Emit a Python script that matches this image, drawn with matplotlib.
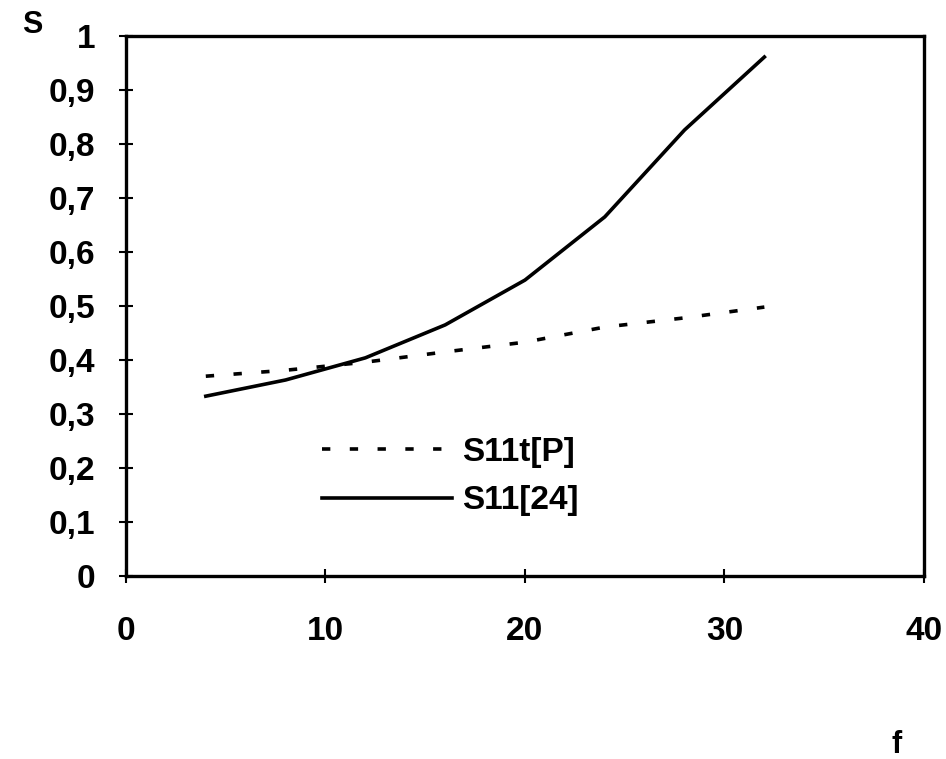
import matplotlib
matplotlib.use("Agg")
import matplotlib.pyplot as plt

plt.rcParams['font.family'] = ['Liberation Sans', 'DejaVu Sans']
plt.rcParams['font.weight'] = 'bold'
plt.rcParams['lines.scale_dashes'] = False

# frequency points and S11 values
f = [4, 8, 12, 16, 20, 24, 28, 32]
s11_teor = [0.370, 0.381, 0.396, 0.415, 0.433, 0.461, 0.478, 0.498]
s11_ref = [0.333, 0.363, 0.404, 0.465, 0.548, 0.665, 0.826, 0.961]

x_ticks = [0, 10, 20, 30, 40]
y_ticks = [0, 0.1, 0.2, 0.3, 0.4, 0.5, 0.6, 0.7, 0.8, 0.9, 1]
y_labels = ['0', '0,1', '0,2', '0,3', '0,4', '0,5', '0,6', '0,7', '0,8', '0,9', '1']

fig = plt.figure(figsize=(9.46, 7.59), dpi=100)
ax = fig.add_axes([0.1332, 0.2411, 0.8435, 0.7115])

ax.plot(f, s11_teor, color='black', lw=2.6, linestyle=(0, (6, 14)), label='S11t[P]')
ax.plot(f, s11_ref, color='black', lw=2.6, label='S11[24]')

ax.set_xlim(0, 40)
ax.set_ylim(0, 1)
ax.set_xticks(x_ticks)
ax.set_yticks(y_ticks)
ax.set_yticklabels(y_labels)
ax.tick_params(axis='both', direction='inout', length=10, width=1.5, labelsize=24)
ax.tick_params(axis='x', pad=24)
ax.tick_params(axis='y', pad=17)
for sp in ax.spines.values():
    sp.set_linewidth(2.4)

fig.text(0.023, 0.967, 'S', fontsize=22, fontweight='bold', ha='left', va='center')
fig.text(0.948, 0.018, 'f', fontsize=22, fontweight='bold', ha='center', va='center')

ax.legend(loc='lower left', bbox_to_anchor=(0.229, 0.086), frameon=False, fontsize=24,
          handlelength=3.9, handletextpad=0.3, labelspacing=0.52, borderaxespad=0)

fig.savefig('out.png', dpi=100, facecolor='white')
